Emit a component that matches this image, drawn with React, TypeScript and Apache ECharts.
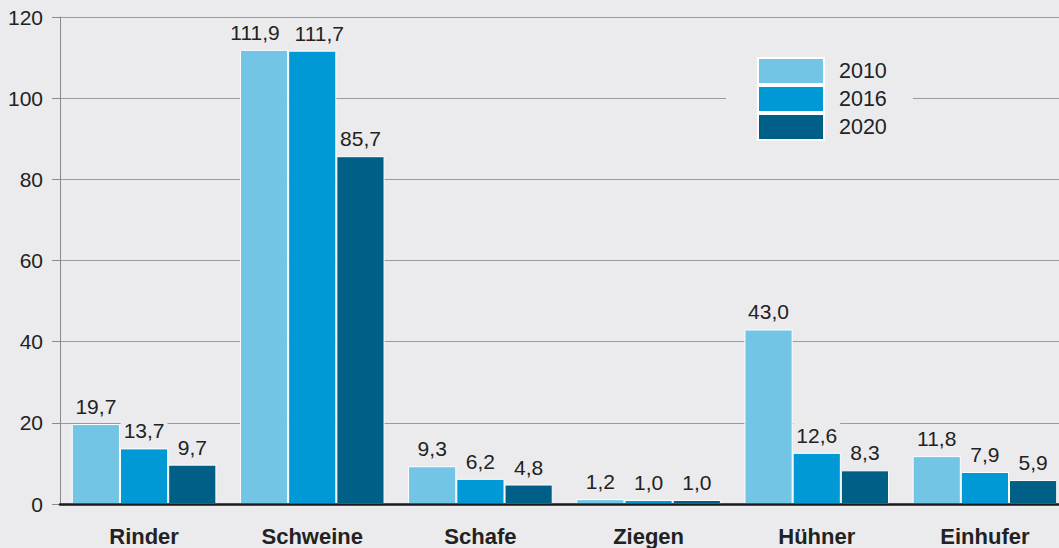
import React, { useEffect, useRef } from "react";
import * as echarts from "echarts";

const categories = ["Rinder", "Schweine", "Schafe", "Ziegen", "Hühner", "Einhufer"];
const years = ["2010", "2016", "2020"];
const values2010 = [19.7, 111.9, 9.3, 1.2, 43.0, 11.8];
const values2016 = [13.7, 111.7, 6.2, 1.0, 12.6, 7.9];
const values2020 = [9.7, 85.7, 4.8, 1.0, 8.3, 5.9];
const colors = ["#72c5e5", "#0099d6", "#005f87"];
// horizontal nudges of value labels (to keep neighbouring labels apart)
const labelShift2010 = [0, -9, 0, 0, 0, 0];
const labelShift2016 = [0, 7, 0, 0, 0, 0];
const labelShift2020 = [0, 0, 0, 0, 0, 0];
const BG = "#ebebed";

export default function App() {
  const ref = useRef<HTMLDivElement>(null);
  useEffect(() => {
    if (!ref.current) return;
    const chart = echarts.init(ref.current, undefined, { renderer: "svg" });
    const font = "Liberation Sans, Arial, sans-serif";
    const seriesData = [values2010, values2016, values2020];
    const shifts = [labelShift2010, labelShift2016, labelShift2020];
    chart.setOption({
      animation: false,
      backgroundColor: BG,
      textStyle: { fontFamily: font },
      grid: { left: 60, width: 1009, top: 17, bottom: 44, containLabel: false, outerBoundsMode: "none" },
      legend: {
        orient: "vertical",
        left: 726,
        top: 47,
        padding: [10, 26, 10, 31],
        backgroundColor: BG,
        itemWidth: 66,
        itemHeight: 26,
        itemGap: 0,
        icon: "rect",
        data: years,
        textStyle: { fontSize: 21.5, color: "#222", fontFamily: font, padding: [0, 0, 0, 10], lineHeight: 26 },
      },
      xAxis: {
        type: "category",
        data: categories,
        axisLine: { show: true, lineStyle: { color: "#1a1a1a", width: 2.5 } },
        axisTick: { show: false },
        axisLabel: { fontSize: 22, fontWeight: "bold", color: "#222", margin: 21, fontFamily: font },
        z: 5,
      },
      yAxis: {
        type: "value",
        min: 0,
        max: 120,
        interval: 20,
        axisLine: { show: true, lineStyle: { color: "#8a8a8a", width: 1 } },
        axisTick: { show: true, length: 8, lineStyle: { color: "#8a8a8a" } },
        axisLabel: { fontSize: 21, color: "#222", margin: 17, fontFamily: font },
        splitLine: { show: true, lineStyle: { color: "#9a9a9a", width: 1 } },
      },
      series: years.map((y, i) => ({
        name: y,
        type: "bar",
        data: seriesData[i].map((v, j) => ({ value: v, label: { offset: [shifts[i][j], 0] } })),
        barGap: "0%",
        barCategoryGap: "14%",
        itemStyle: { color: colors[i], borderColor: "#ffffff", borderWidth: 1 },
        label: {
          show: true,
          position: "top",
          distance: 5,
          fontSize: 21,
          color: "#222",
          fontFamily: font,
          backgroundColor: BG,
          padding: [3, 3, 2, 3],
          formatter: (p: any) => p.value.toFixed(1).replace(".", ","),
        },
      })),
    });
    return () => chart.dispose();
  }, []);
  return <div ref={ref} style={{ width: 1059, height: 548, position: "absolute", left: 0, top: 0 }} />;
}
